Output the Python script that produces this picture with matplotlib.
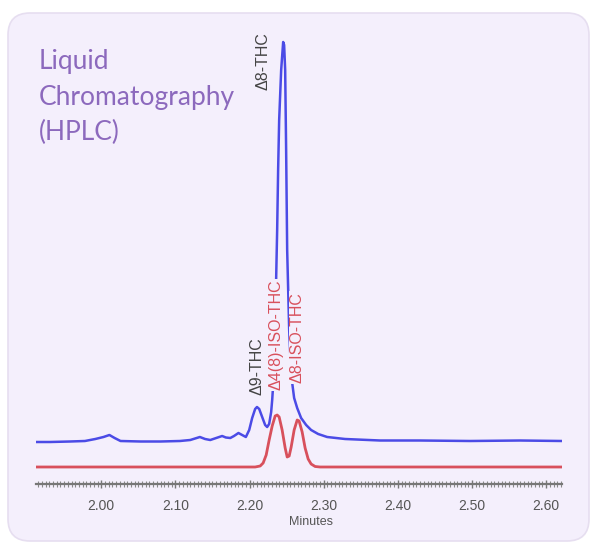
import matplotlib
matplotlib.use("Agg")
import matplotlib.pyplot as plt
from matplotlib.patches import FancyBboxPatch
from matplotlib.ticker import MultipleLocator

# ---- data (retention time in minutes, detector signal in arbitrary units) ----
blue_t = [1.912, 1.931, 1.958, 1.978, 1.992, 2.003, 2.011, 2.018, 2.026, 2.053,
          2.080, 2.106, 2.120, 2.133, 2.140, 2.147, 2.155, 2.163, 2.168, 2.174,
          2.179, 2.185, 2.190, 2.195, 2.1995, 2.2035, 2.2075, 2.210, 2.213, 2.217,
          2.221, 2.2237, 2.2264, 2.2291, 2.2305, 2.2318, 2.2332, 2.2345, 2.2358, 2.2372,
          2.2385, 2.2399, 2.2426, 2.2453, 2.2466, 2.2480, 2.2493, 2.2507, 2.2534, 2.2561,
          2.2601, 2.2642, 2.2695, 2.2763, 2.2830, 2.2925, 2.3046, 2.3288, 2.3760, 2.4299,
          2.4973, 2.5647, 2.6213]
blue_signal = [-1, -1, -0.5, 0, 2, 4, 6, 3, 0, -0.5,
               -0.5, 0, 1, 4, 2, 1, 3, 5, 3.5, 3,
               5, 8, 6, 4, 11, 23, 32, 34, 32, 24,
               16, 14, 17, 29, 41, 56, 81, 121, 161, 211,
               271, 321, 371, 399, 396, 371, 291, 191, 111, 66,
               43, 33, 23, 16, 11, 7, 4, 2, 0.5, 0.5,
               0, 0.5, 0]

red_t = [1.912, 2.2075, 2.2143, 2.2183, 2.2224, 2.2264, 2.2305, 2.2345, 2.2372, 2.2399,
         2.2439, 2.2480, 2.2507, 2.2534, 2.2561, 2.2601, 2.2642, 2.2668, 2.2709, 2.2749,
         2.2790, 2.2830, 2.2884, 2.2951, 2.6213]
red_signal = [0, 0, 1, 4, 12, 27, 41, 51, 52, 50,
              37, 19, 10, 11, 20, 37, 47, 46, 35, 19,
              8, 3, 0.5, 0, 0]

tick_values = [2.00, 2.10, 2.20, 2.30, 2.40, 2.50, 2.60]
tick_labels = ["2.00", "2.10", "2.20", "2.30", "2.40", "2.50", "2.60"]

title_lines = ["Liquid", "Chromatography", "(HPLC)"]
blue_labels = ["\u03948-THC", "\u03949-THC"]
red_labels = ["\u03944(8)-ISO-THC", "\u03948-ISO-THC"]

# ---- styling ----
W, H = 591, 546
BG = "#f4effc"
BLUE = "#4b4be6"
RED = "#d8505c"
PURPLE = "#8c69bd"
GRAY = "#555555"
blue_offset = 26

fig = plt.figure(figsize=(W / 100, H / 100), dpi=100)
fig.patch.set_facecolor("white")

# background card in pixel coordinates
bg = fig.add_axes([0, 0, 1, 1], zorder=0)
bg.set_xlim(0, W)
bg.set_ylim(H, 0)
bg.axis("off")
card = FancyBboxPatch((8, 13), 581, 528, boxstyle="round,pad=0,rounding_size=22",
                      facecolor=BG, edgecolor="#e6def0", linewidth=1.2)
bg.add_patch(card)

for i, line in enumerate(title_lines):
    bg.text(39, 69 + i * 35.5, line, color=PURPLE, fontsize=19, family="Lato",
            va="baseline", ha="left")

# main chart axes
ax_left, ax_right, ax_bottom, ax_top = 36, 562, 484, 30
ax = fig.add_axes([ax_left / W, (H - ax_bottom) / H,
                   (ax_right - ax_left) / W, (ax_bottom - ax_top) / H], zorder=1)
ax.set_facecolor("none")
ax.set_xlim(1.912, 2.6213)
ax.set_ylim(-17, 437)

ax.plot(red_t, red_signal, color=RED, lw=2.0, solid_joinstyle="round", zorder=3)
ax.plot(blue_t, [v + blue_offset for v in blue_signal], color=BLUE, lw=1.8,
        solid_joinstyle="round", zorder=2)

for s in ["top", "right", "left"]:
    ax.spines[s].set_visible(False)
ax.spines["bottom"].set_color("#777777")
ax.spines["bottom"].set_linewidth(1.6)
ax.set_yticks([])
ax.set_xticks(tick_values)
ax.set_xticklabels(tick_labels, fontsize=10, color=GRAY, family="Liberation Sans")
ax.xaxis.set_minor_locator(MultipleLocator(0.005))
ax.tick_params(axis="x", which="major", direction="inout", length=6, width=1,
               color="#777777", pad=8)
ax.tick_params(axis="x", which="minor", direction="inout", length=4, width=0.8,
               color="#888888")
ax.set_xlabel("Minutes", fontsize=9, color=GRAY, family="Liberation Sans", labelpad=2)
ax.xaxis.set_label_coords(0.523, -0.07)

# peak labels
FAM = ["Liberation Sans", "DejaVu Sans"]
ax.text(2.2175, 377, blue_labels[0], color="#444444", zorder=4,
        fontsize=11.5, family=FAM, rotation=90, ha="center", va="bottom")
ax.text(2.210, 72, blue_labels[1], color="#444444", zorder=4,
        fontsize=11.5, family=FAM, rotation=90, ha="center", va="bottom")
for t, yb, txt in [(2.2355, 77, red_labels[0]), (2.2642, 84, red_labels[1])]:
    ax.text(t, yb, txt, color=RED, zorder=5, fontsize=11.5, family=FAM, rotation=90,
            ha="center", va="bottom",
            bbox=dict(boxstyle="square,pad=0.05", facecolor=BG, edgecolor="none"))

fig.savefig("out.png", dpi=100, facecolor="white")
